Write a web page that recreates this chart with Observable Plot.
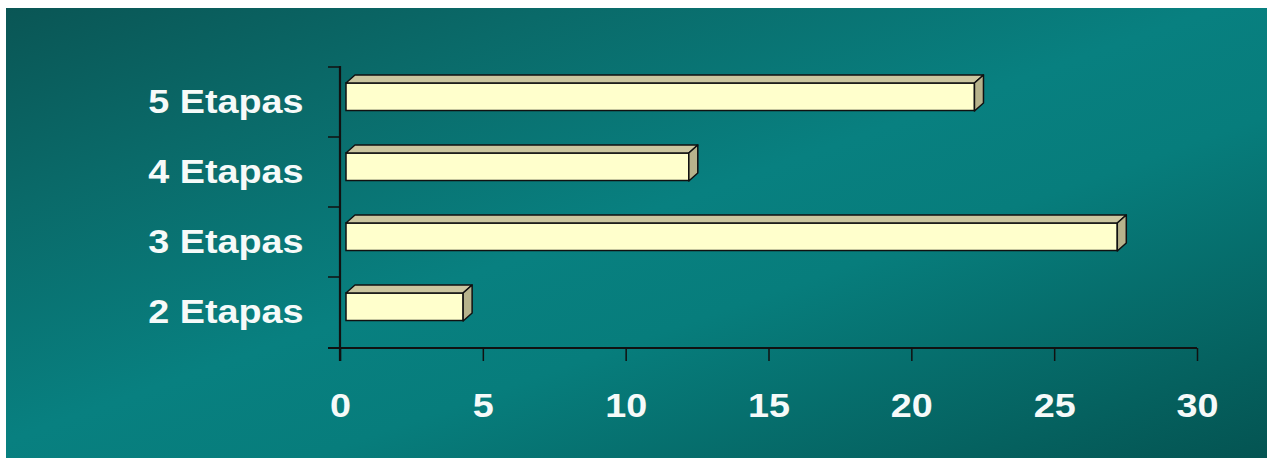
<!DOCTYPE html>
<html><head><meta charset="utf-8">
<script src="https://cdn.jsdelivr.net/npm/d3@7"></script>
<script src="https://cdn.jsdelivr.net/npm/@observablehq/plot@0.6"></script>
<style>
html,body{margin:0;padding:0;background:#fff;}
#wrap{position:relative;width:1273px;height:459px;overflow:hidden;}
#bg{position:absolute;left:6px;top:8px;width:1261px;height:450px;
 background:linear-gradient(to bottom right,#0a5655 0%,#0a6a69 22%,#088080 48%,#077d7c 62%,#05615f 88%,#045452 100%);}
#chart{position:absolute;left:0;top:0;}
</style></head><body><div id="wrap"><div id="bg"></div><div id="chart"></div></div>
<script>
const categories = ["2 Etapas", "3 Etapas", "4 Etapas", "5 Etapas"];
const values = [4.1, 27, 12, 22];
const xTicks = [0, 5, 10, 15, 20, 25, 30];
const data = categories.map((c, i) => ({etapa: c, value: values[i]}));

const W = 1273, H = 459, ML = 340, MR = 76, MT = 66, MB = 111;
const BAND = (H - MT - MB) / categories.length;
const DX = 6, DEPTH_X = 9, DEPTH_Y = 8, INSET_TOP = 16, FACE_H = 28;
const INK = "#111";
const TEXT = "#f6faf9";

function faces(index, scales) {
  const x = scales.x, y = scales.y;
  const g = d3.create("svg:g").attr("stroke", INK).attr("stroke-width", 1.5).attr("stroke-linejoin", "round");
  for (const d of data) {
    const y0 = y(d.etapa) + INSET_TOP, y1 = y0 + FACE_H;
    const xa = x(0) + DX, xb = x(d.value) + DX;
    g.append("path").attr("fill", "#cbc6a0")
      .attr("d", `M${xa},${y0}L${xa + DEPTH_X},${y0 - DEPTH_Y}L${xb + DEPTH_X},${y0 - DEPTH_Y}L${xb},${y0}Z`);
    g.append("path").attr("fill", "#b7b38c")
      .attr("d", `M${xb},${y0}L${xb + DEPTH_X},${y0 - DEPTH_Y}L${xb + DEPTH_X},${y1 - DEPTH_Y}L${xb},${y1}Z`);
  }
  return g.node();
}

function axisLines(index, scales) {
  const x = scales.x, y = scales.y;
  const g = d3.create("svg:g").attr("stroke", INK).attr("fill", "none");
  const x0 = x(0), bottom = H - MB;
  g.append("line").attr("x1", x0).attr("x2", x0).attr("y1", MT).attr("y2", bottom + 13).attr("stroke-width", 2.2);
  g.append("line").attr("x1", x0 - 12).attr("x2", x(xTicks[xTicks.length - 1])).attr("y1", bottom).attr("y2", bottom).attr("stroke-width", 2.2);
  const bounds = categories.map(c => y(c)).concat([bottom]);
  for (const b of bounds) {
    g.append("line").attr("x1", x0 - 12).attr("x2", x0).attr("y1", b).attr("y2", b).attr("stroke-width", 1.5);
  }
  return g.node();
}

const chart = Plot.plot({
  width: W, height: H,
  marginLeft: ML, marginRight: MR, marginTop: MT, marginBottom: MB,
  style: {background: "transparent", fontFamily: "'Liberation Sans', Arial, sans-serif", fontSize: "34px", fontWeight: "bold", overflow: "visible"},
  x: {domain: [0, 30]},
  y: {domain: [...categories].reverse(), padding: 0},
  marks: [
    Plot.barX(data, {x: "value", y: "etapa", fill: "#ffffcc", stroke: INK, strokeWidth: 1.5,
      insetTop: INSET_TOP, insetBottom: BAND - INSET_TOP - FACE_H, dx: DX}),
    faces,
    axisLines,
    Plot.axisX({ticks: xTicks, tickSize: 13, tickPadding: 31, stroke: INK, strokeWidth: 1.5, fill: TEXT,
      fontSize: 34, fontWeight: "bold", label: null, tickFormat: d => String(d)}),
    Plot.axisY({tickSize: 0, tickPadding: 37, fill: TEXT, fontSize: 34, fontWeight: "bold", label: null})
  ]
});
// widen glyphs horizontally around each label's anchor, like the reference's stretched type
d3.select(chart).selectAll("text").each(function() {
  const x = +this.getAttribute("x") || 0, y = +this.getAttribute("y") || 0;
  const t = this.getAttribute("transform") || "";
  this.setAttribute("transform", `${t} translate(${x},${y}) scale(1.11,1) translate(${-x},${-y})`);
});
document.getElementById("chart").appendChild(chart);
</script>
</body></html>
